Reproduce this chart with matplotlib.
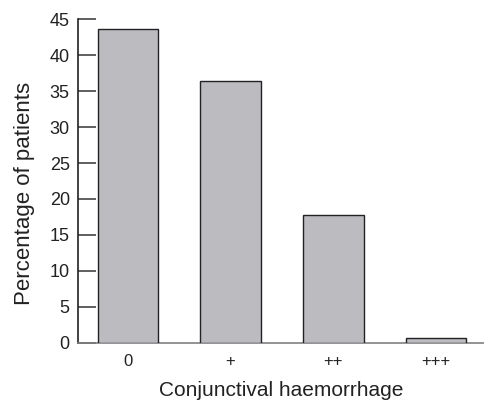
import matplotlib
matplotlib.use("Agg")
import matplotlib.pyplot as plt

categories = ["0", "+", "++", "+++"]
values = [43.7, 36.4, 17.8, 0.6]
yticks = [0, 5, 10, 15, 20, 25, 30, 35, 40, 45]

plt.rcParams['font.family'] = ['Liberation Sans', 'DejaVu Sans']

fig = plt.figure(figsize=(4.85, 4.0), dpi=100)
ax = fig.add_axes([0.161, 0.143, 0.839, 0.809])
x = list(range(len(categories)))
ax.bar(x, values, width=0.59, color="#bcbcc0", edgecolor="#222222", linewidth=1.0, zorder=3)
ax.set_xlim(-0.484, 3.475)
ax.set_ylim(0, 45)
ax.set_yticks(yticks)
ax.set_xticks(x)
ax.set_xticklabels(categories)
for s in ["top", "right"]:
    ax.spines[s].set_visible(False)
ax.spines["left"].set_color("#222222")
ax.spines["left"].set_linewidth(1.2)
ax.spines["bottom"].set_color("#808080")
ax.spines["bottom"].set_linewidth(1.2)
ax.tick_params(axis="y", direction="in", length=13, width=1.2, color="#444444",
               labelsize=13, pad=6, labelcolor="#222222")
ax.tick_params(axis="x", length=0, labelsize=12, pad=8, labelcolor="#222222")
ax.set_ylabel("Percentage of patients", fontsize=16, color="#222222")
ax.yaxis.set_label_coords(-0.105, 0.461)
ax.set_xlabel("Conjunctival haemorrhage", fontsize=15, color="#222222", labelpad=9)
fig.savefig("out.png", dpi=100)
